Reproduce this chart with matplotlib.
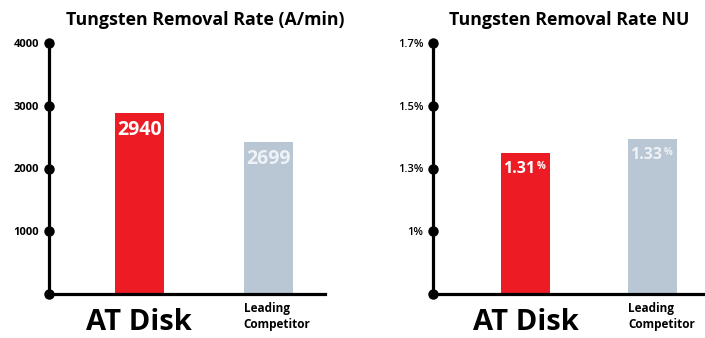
import matplotlib
matplotlib.use("Agg")
import matplotlib.pyplot as plt

plt.rcParams['font.family'] = ['Open Sans', 'DejaVu Sans']

# data (bar heights as drawn, labels as printed)
products = ["AT Disk", "Leading\nCompetitor"]
rate_heights = [2884, 2422]
rate_labels = ["2940", "2699"]
rate_ticks = [0, 1000, 2000, 3000, 4000]
rate_ticklabels = ["", "1000", "2000", "3000", "4000"]

nu_heights = [2.25, 2.47]
nu_labels = ["1.31", "1.33"]
nu_ticks = [0, 1, 2, 3, 4]
nu_ticklabels = ["", "1%", "1.3%", "1.5%", "1.7%"]

colors = ["#ED1C24", "#B9C6D3"]
label_colors = ["white", "#EEF2F6"]

W, H = 705, 338
fig = plt.figure(figsize=(W / 100, H / 100), dpi=100)


def px_axes(x0, x1, ytop, ybot):
    return fig.add_axes([x0 / W, (H - ybot) / H, (x1 - x0) / W, (ybot - ytop) / H])


def style(ax, ticks, ticklabels, ymax, xlim, tick_weight):
    ax.set_xlim(*xlim)
    ax.set_ylim(0, ymax)
    for s in ["top", "right"]:
        ax.spines[s].set_visible(False)
    for s in ["left", "bottom"]:
        ax.spines[s].set_linewidth(2.3)
        ax.spines[s].set_color("black")
    ax.set_xticks([])
    ax.set_yticks(ticks)
    ax.set_yticklabels(ticklabels, fontsize=8, fontweight=tick_weight)
    ax.tick_params(axis="y", length=0, pad=7)
    ax.plot([xlim[0]] * len(ticks), ticks, "o", color="black", ms=6.5, clip_on=False, zorder=5)


def names(ax, x):
    ax.text(x[0], -0.115, products[0], transform=ax.get_xaxis_transform(), ha="center", va="center",
            fontsize=21, fontweight="bold")
    ax.text(x[1] - 0.19, -0.09, products[1], transform=ax.get_xaxis_transform(), ha="left", va="center",
            fontsize=8.5, fontweight="bold", linespacing=1.3)


# left panel
ax1 = px_axes(49, 325, 43, 294)
x = [0, 1]
ax1.bar(x, rate_heights, width=0.38, color=colors)
style(ax1, rate_ticks, rate_ticklabels, 4000, (-0.70, 1.44), "bold")
for i in range(2):
    ax1.annotate(rate_labels[i], (x[i], rate_heights[i]), xytext=(0, -5), textcoords="offset points",
                 ha="center", va="top", color=label_colors[i], fontsize=14, fontweight="bold")
ax1.set_title("Tungsten Removal Rate (A/min)", fontsize=12.8, fontweight="bold", pad=13, x=0.565)
names(ax1, x)

# right panel
ax2 = px_axes(433, 705, 43, 294)
ax2.bar(x, nu_heights, width=0.386, color=colors)
style(ax2, nu_ticks, nu_ticklabels, 4, (-0.728, 1.413), "semibold")
for i in range(2):
    ax2.annotate(nu_labels[i], (x[i], nu_heights[i]), xytext=(7, -6), textcoords="offset points",
                 ha="right", va="top", color=label_colors[i], fontsize=11.5, fontweight="bold")
    ax2.annotate("%", (x[i], nu_heights[i]), xytext=(8, -6), textcoords="offset points",
                 ha="left", va="top", color=label_colors[i], fontsize=7, fontweight="bold")
ax2.set_title("Tungsten Removal Rate NU", fontsize=12.8, fontweight="bold", pad=13, x=0.5)
names(ax2, x)

fig.savefig("out.png", dpi=100, facecolor="white")
